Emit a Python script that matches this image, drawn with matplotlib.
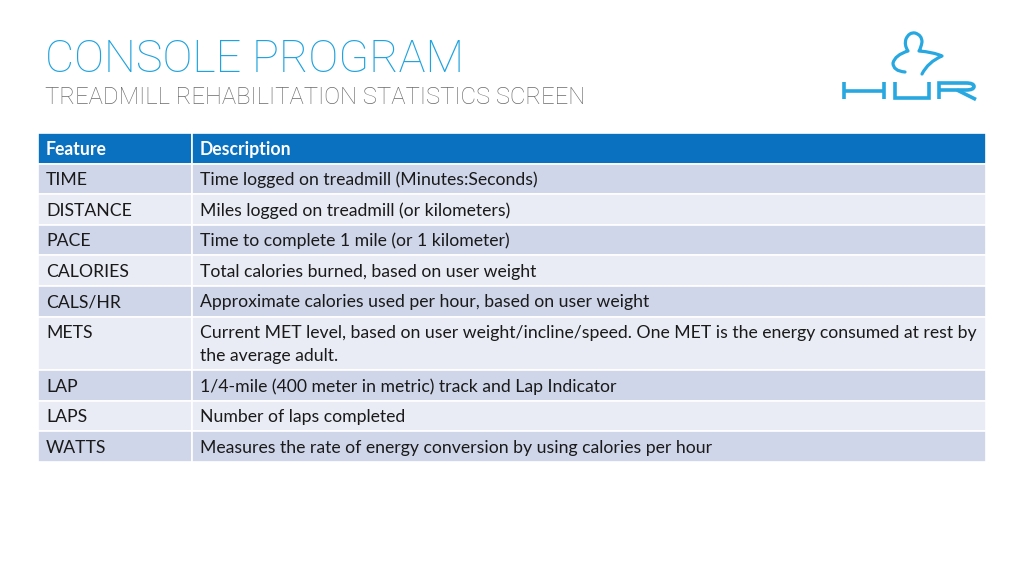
import matplotlib
matplotlib.use("Agg")
import matplotlib.pyplot as plt
from matplotlib.patches import Rectangle, PathPatch
from matplotlib.path import Path

# ---- content ----
title = "CONSOLE PROGRAM"
subtitle = "TREADMILL REHABILITATION STATISTICS SCREEN"
header = ["Feature", "Description"]
features = ["TIME", "DISTANCE", "PACE", "CALORIES", "CALS/HR", "METS", "LAP", "LAPS", "WATTS"]
descriptions = [
    "Time logged on treadmill (Minutes:Seconds)",
    "Miles logged on treadmill (or kilometers)",
    "Time to complete 1 mile (or 1 kilometer)",
    "Total calories burned, based on user weight",
    "Approximate calories used per hour, based on user weight",
    "Current MET level, based on user weight/incline/speed. One MET is the energy consumed at rest by\nthe average adult.",
    "1/4-mile (400 meter in metric) track and Lap Indicator",
    "Number of laps completed",
    "Measures the rate of energy conversion by using calories per hour",
]

# ---- style ----
TITLE_BLUE = "#1fa3df"
SUB_GRAY = "#6b6b6b"
HEAD_BLUE = "#0a70c0"
ROW_DARK = "#cfd6e9"
ROW_LIGHT = "#e9ecf5"
TXT = "#1a1a1a"
LOGO = "#27a8e0"

fig = plt.figure(figsize=(10.24, 5.76), dpi=100)
ax = fig.add_axes([0, 0, 1, 1])
ax.set_xlim(0, 1024)
ax.set_ylim(576, 0)
ax.axis("off")

# titles
ax.text(45, 72, title, fontsize=32.4, color=TITLE_BLUE, family="Roboto",
        fontweight="light", va="baseline", ha="left")
ax.text(45, 104, subtitle, fontsize=17.2, color=SUB_GRAY, family="Roboto",
        fontweight="light", va="baseline", ha="left")

# table
x0, x1, x2 = 38, 192, 986
head_top, head_h = 133, 30.5
line_h, base_h = 23.0, 30.6
fs = 12.7
tfam = ["Lato", "DejaVu Sans"]
dy = 1.2

ax.add_patch(Rectangle((x0, head_top), x1 - x0, head_h, facecolor=HEAD_BLUE,
                       edgecolor="white", lw=1.2))
ax.add_patch(Rectangle((x1, head_top), x2 - x1, head_h, facecolor=HEAD_BLUE,
                       edgecolor="white", lw=1.2))
ax.text(x0 + 8, head_top + head_h / 2 + dy, header[0], color="white", fontsize=fs,
        family=tfam, fontweight="bold", va="center", ha="left")
ax.text(x1 + 8, head_top + head_h / 2 + dy, header[1], color="white", fontsize=fs,
        family=tfam, fontweight="bold", va="center", ha="left")

y = head_top + head_h
for i, (feat, desc) in enumerate(zip(features, descriptions)):
    lines = desc.split("\n")
    h = base_h + line_h * (len(lines) - 1)
    col = ROW_DARK if i % 2 == 0 else ROW_LIGHT
    ax.add_patch(Rectangle((x0, y), x1 - x0, h, facecolor=col, edgecolor="white", lw=1.2))
    ax.add_patch(Rectangle((x1, y), x2 - x1, h, facecolor=col, edgecolor="white", lw=1.2))
    ax.text(x0 + 8, y + base_h / 2 + dy, feat, color=TXT, fontsize=fs, family=tfam,
            va="center", ha="left")
    for k, ln in enumerate(lines):
        ax.text(x1 + 8, y + base_h / 2 + dy + k * line_h, ln, color=TXT, fontsize=fs,
                family=tfam, va="center", ha="left")
    y += h

# logo: figure outline
M, Q, L = Path.MOVETO, Path.CURVE3, Path.LINETO
verts = [(905, 72),
         (893, 71), (893, 63),
         (895, 55), (908, 51),
         (904, 45), (906, 39),
         (909, 32), (915, 33),
         (922, 35), (922, 42),
         (921, 48), (919, 51),
         (933, 52), (942, 56),
         (928, 62), (922, 74)]
codes = [M] + [Q] * 16
ax.add_patch(PathPatch(Path(verts, codes), facecolor="none", edgecolor=LOGO,
                       lw=2.3, capstyle="round", joinstyle="round"))

lw_l = 2.6
def seg(xs, ys):
    ax.plot(xs, ys, color=LOGO, lw=lw_l, solid_capstyle="butt", solid_joinstyle="miter")

# H
seg([844, 844], [82, 99]); seg([884, 884], [82, 99]); seg([844, 884], [90.5, 90.5])
# U
seg([895, 895, 929, 929], [82, 98, 98, 82])
# R
rv = [(939, 99), (939, 83), (966, 83), (974, 83), (974, 86.5), (974, 90), (966, 90), (939, 90)]
rc = [M, L, L, Q, Q, Q, Q, L]
ax.add_patch(PathPatch(Path(rv, rc), facecolor="none", edgecolor=LOGO, lw=lw_l,
                       joinstyle="miter", capstyle="butt"))
seg([957, 976], [90, 99.5])

fig.savefig("out.png", dpi=100, facecolor="white")
